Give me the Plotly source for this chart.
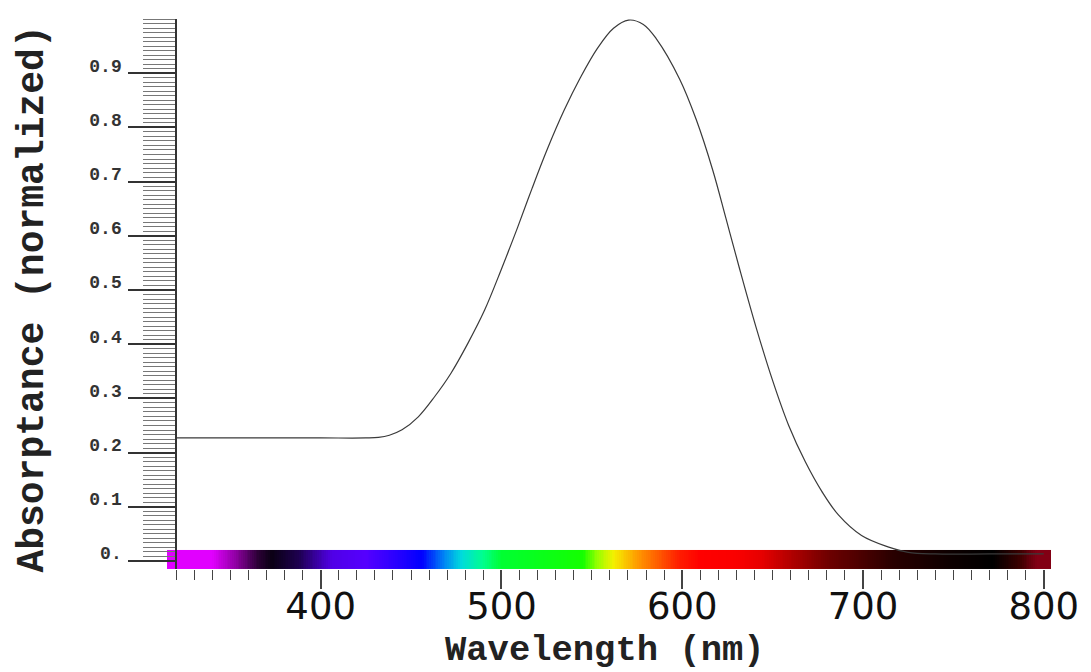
import plotly.graph_objects as go

# ---- data ----
wavelength_nm = [320, 360, 400, 425, 432, 438, 445, 454, 463, 472, 481.5, 490.7, 499.8, 508.9,
                 517, 525.4, 534.6, 543.7, 552.9, 562, 570.3, 578.5, 585.8, 598.6, 607.7,
                 616.9, 624.2, 631.5, 640.7, 649.8, 658.9, 668.1, 677.3, 686.4, 699.2, 713.8,
                 725, 740, 770, 800]
absorptance = [0.227, 0.227, 0.227, 0.227, 0.228, 0.232, 0.242, 0.266, 0.303, 0.346, 0.402, 0.463,
               0.537, 0.615, 0.688, 0.760, 0.831, 0.892, 0.945, 0.983, 0.998, 0.990, 0.963, 0.889,
               0.815, 0.721, 0.632, 0.542, 0.433, 0.335, 0.250, 0.183, 0.128, 0.085, 0.047, 0.026,
               0.016, 0.013, 0.013, 0.013]

# spectrum colour bar stops (nm, colour)
spectrum_nm = [315, 340, 352, 365, 373, 388, 406, 425, 442, 456, 468, 478, 490, 500, 545, 553,
               562, 576, 598, 610, 630, 644, 681, 717, 750, 772, 787, 796, 804]
spectrum_colors = ["rgb(225,0,255)", "rgb(225,0,255)", "rgb(150,0,170)", "rgb(45,0,55)",
                   "rgb(10,0,20)", "rgb(30,0,80)", "rgb(80,0,230)", "rgb(85,0,255)",
                   "rgb(40,0,255)", "rgb(0,0,255)", "rgb(0,130,245)", "rgb(0,220,220)",
                   "rgb(0,255,140)", "rgb(0,255,50)", "rgb(20,255,0)", "rgb(150,255,0)",
                   "rgb(245,240,0)", "rgb(255,150,0)", "rgb(255,30,0)", "rgb(255,0,0)",
                   "rgb(250,0,0)", "rgb(230,0,0)", "rgb(110,0,0)", "rgb(40,0,0)",
                   "rgb(12,0,0)", "rgb(0,0,0)", "rgb(60,0,0)", "rgb(130,0,20)", "rgb(130,0,20)"]

x_tick_vals = [400, 500, 600, 700, 800]
x_tick_text = ["400", "500", "600", "700", "800"]
y_tick_vals = [0, 0.1, 0.2, 0.3, 0.4, 0.5, 0.6, 0.7, 0.8, 0.9]
y_tick_text = ["0.", "0.1", "0.2", "0.3", "0.4", "0.5", "0.6", "0.7", "0.8", "0.9"]

x_title = "Wavelength (nm)"
y_title = "Absorptance (normalized)"

X_MIN, X_MAX = 315, 804
Y_MIN, Y_MAX = -0.0148, 1.0
BAR_BOTTOM, BAR_TOP = -0.0148, 0.0203

# ---- colour bar as heatmap ----
span = X_MAX - X_MIN
colorscale = [[(w - X_MIN) / span, c] for w, c in zip(spectrum_nm, spectrum_colors)]
edges = [X_MIN + i for i in range(span + 1)]
centers = [e + 0.5 for e in edges[:-1]]

fig = go.Figure()
fig.add_trace(go.Heatmap(
    x=edges, y=[BAR_BOTTOM, BAR_TOP], z=[centers],
    colorscale=colorscale, zmin=X_MIN, zmax=X_MAX,
    showscale=False, hoverinfo="skip",
))
fig.add_trace(go.Scatter(
    x=wavelength_nm, y=absorptance, mode="lines",
    line=dict(color="#3a3a3a", width=1.2, shape="spline", smoothing=1.0),
    showlegend=False,
))

minor_y = [round(i / 120, 5) for i in range(0, 121)]

fig.update_layout(
    width=1091, height=672,
    margin=dict(l=166.6, r=33.4, t=19, b=103),
    paper_bgcolor="white", plot_bgcolor="white",
    showlegend=False,
    xaxis=dict(
        range=[X_MIN, X_MAX], showgrid=False, zeroline=False, showline=False,
        tickmode="array", tickvals=x_tick_vals, ticktext=x_tick_text,
        ticks="outside", ticklen=19, tickwidth=1.5, tickcolor="#444",
        minor=dict(tickmode="linear", tick0=0, dtick=10, ticks="outside",
                   ticklen=10, tickwidth=1.3, tickcolor="#444"),
        tickfont=dict(family="DejaVu Sans", size=37, color="#111"),
        ticklabelstandoff=-14,
    ),
    yaxis=dict(
        range=[Y_MIN, Y_MAX], showgrid=False, zeroline=False,
        showline=True, linecolor="#333", linewidth=1.5,
        anchor="free", position=(320 - X_MIN) / span,
        tickmode="array", tickvals=y_tick_vals, ticktext=y_tick_text,
        ticks="outside", ticklen=47, tickwidth=1.5, tickcolor="#333",
        minor=dict(tickmode="array", tickvals=minor_y, ticks="outside",
                   ticklen=32, tickwidth=1.4, tickcolor="#777"),
        tickfont=dict(family="Liberation Mono", size=18, color="#333", weight="bold"),
        ticklabelshift=-8, ticklabelstandoff=3,
    ),
    annotations=[
        dict(text=x_title, xref="paper", yref="paper", x=0.495, y=-0.149,
             xanchor="center", yanchor="middle", showarrow=False,
             font=dict(family="Liberation Mono", size=35.5, color="#222", weight="bold")),
        dict(text=y_title, xref="paper", yref="paper", x=-0.152, y=0.491,
             xanchor="center", yanchor="middle", showarrow=False, textangle=-90,
             font=dict(family="Liberation Mono", size=38, color="#222", weight="bold")),
    ],
)

fig.write_html("out.html", post_script="document.body.style.margin='0';",
               config={"displayModeBar": False})
